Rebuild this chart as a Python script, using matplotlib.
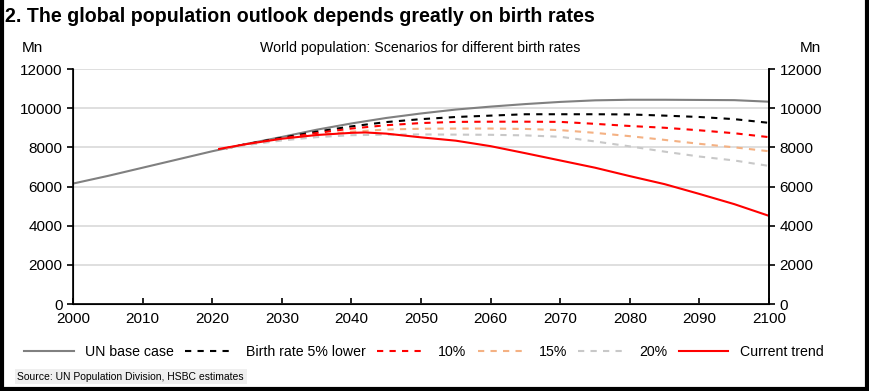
import numpy as np
import matplotlib.pyplot as plt
from matplotlib.lines import Line2D

plt.rcParams['font.family'] = ['Liberation Sans', 'DejaVu Sans']

# UN base case
base_years = [2000, 2005, 2010, 2015, 2020, 2025, 2030, 2035, 2040, 2045, 2050,
              2055, 2060, 2065, 2070, 2075, 2080, 2085, 2090, 2095, 2100]
base_vals = [6150, 6540, 6960, 7380, 7800, 8180, 8530, 8900, 9220, 9500, 9730,
             9930, 10080, 10210, 10320, 10400, 10430, 10430, 10420, 10410, 10330]

# scenarios
scen_years = [2022, 2025, 2030, 2035, 2040, 2045, 2050, 2055, 2060, 2065, 2070,
              2075, 2080, 2085, 2090, 2095, 2100]
lower5 = [7950, 8170, 8490, 8800, 9070, 9290, 9440, 9550, 9620, 9690, 9690,
          9690, 9680, 9620, 9550, 9440, 9250]
lower10 = [7950, 8160, 8450, 8730, 8960, 9130, 9240, 9300, 9310, 9310, 9300,
           9200, 9090, 9000, 8870, 8720, 8520]
lower15 = [7950, 8140, 8400, 8630, 8800, 8910, 8950, 8960, 8960, 8940, 8880,
           8740, 8570, 8380, 8180, 8000, 7800]
lower20 = [7950, 8120, 8350, 8520, 8620, 8650, 8660, 8650, 8640, 8610, 8540,
           8300, 8050, 7780, 7530, 7330, 7050]

# current trend
trend_years = [2021, 2025, 2030, 2035, 2040, 2042, 2045, 2050, 2055, 2060, 2065,
               2070, 2075, 2080, 2085, 2090, 2095, 2100]
trend_vals = [7920, 8170, 8440, 8630, 8740, 8760, 8700, 8510, 8340, 8060, 7700,
              7330, 6960, 6530, 6120, 5620, 5100, 4500]

fig = plt.figure(figsize=(8.69, 3.91), dpi=100)
ax = fig.add_axes([0.084, 0.2225, 0.801, 0.601])

ax.plot(base_years, base_vals, color='#808080', lw=1.5, label='UN base case')
ax.plot(scen_years, lower5, color='black', lw=1.5, dashes=(3, 3), label='Birth rate 5% lower')
ax.plot(scen_years, lower10, color='#ff0000', lw=1.5, dashes=(3, 3), label='10%')
ax.plot(scen_years, lower15, color='#f4b183', lw=1.5, dashes=(3, 3), label='15%')
ax.plot(scen_years, lower20, color='#c8c8c8', lw=1.5, dashes=(3, 3), label='20%')
ax.plot(trend_years, trend_vals, color='#ff0000', lw=1.5, label='Current trend')

ax.set_xlim(2000, 2100)
ax.set_ylim(0, 12000)
ax.set_xticks(np.arange(2000, 2101, 10))
ax.set_yticks(np.arange(0, 12001, 2000))
ax.grid(axis='y', color='#d9d9d9', lw=1.2)
ax.set_axisbelow(True)
ax.spines['top'].set_visible(False)
for s in ['left', 'right', 'bottom']:
    ax.spines[s].set_linewidth(1.2)
ax.tick_params(axis='y', direction='out', length=4, width=1.2, labelsize=11)
ax.tick_params(axis='x', direction='in', length=4, width=1.2, labelsize=11, pad=6)

ax2 = ax.twinx()
ax2.set_ylim(0, 12000)
ax2.set_yticks(np.arange(0, 12001, 2000))
ax2.spines['top'].set_visible(False)
ax2.spines['right'].set_linewidth(1.2)
ax2.tick_params(axis='y', direction='out', length=4, width=1.2, labelsize=11)

fig.text(0.006, 0.958, '2. The global population outlook depends greatly on birth rates',
         fontsize=14.1, fontweight='bold', va='center', ha='left')
fig.text(0.484, 0.877, 'World population: Scenarios for different birth rates',
         fontsize=10.2, va='center', ha='center')
fig.text(0.025, 0.877, 'Mn', fontsize=11, va='center', ha='left')
fig.text(0.920, 0.877, 'Mn', fontsize=11, va='center', ha='left')

ax.legend(loc='center', bbox_to_anchor=(0.504, -0.204), ncol=6, frameon=False,
          fontsize=10.2, handlelength=3.5, columnspacing=0.8, handletextpad=0.8)

fig.text(0.02, 0.037, 'Source: UN Population Division, HSBC estimates', fontsize=7.5,
         va='center', ha='left',
         bbox=dict(facecolor='#efefef', edgecolor='none', pad=2))

# frame around the chart
for xs, ys in [([0.002, 0.002], [0, 1]), ([0.998, 0.998], [0, 1]), ([0, 1], [0.005, 0.005])]:
    fig.add_artist(Line2D(xs, ys, color='black', lw=3, transform=fig.transFigure))

fig.savefig('out.png', dpi=100)
